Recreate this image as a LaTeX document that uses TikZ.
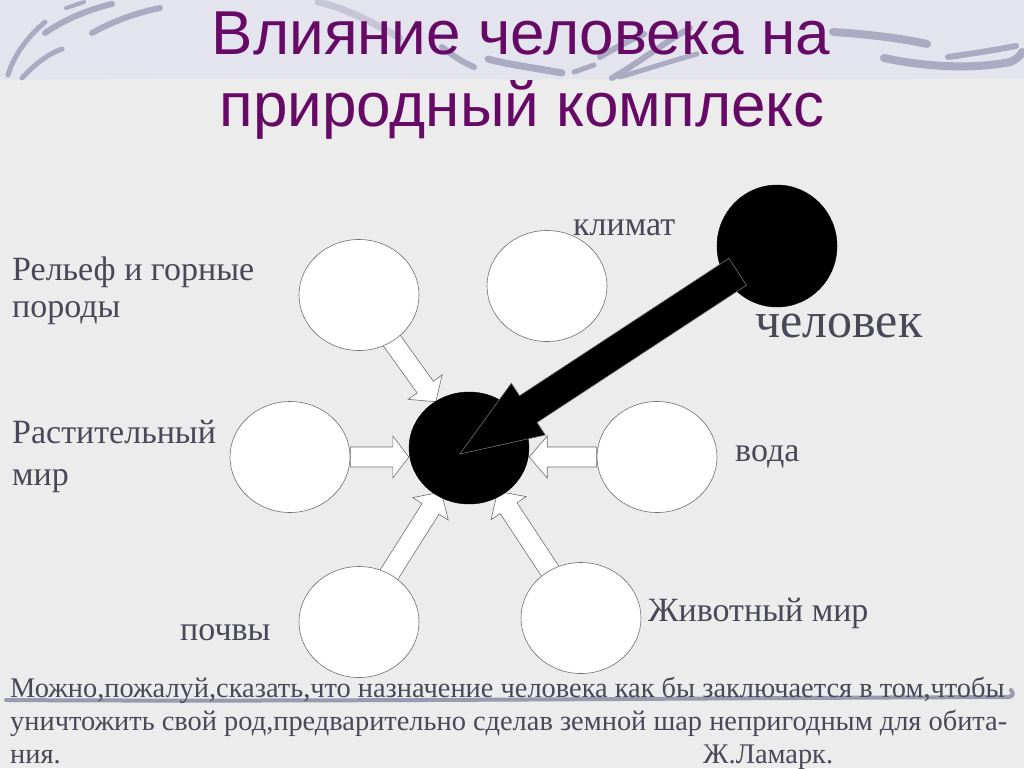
\documentclass[tikz,border=0pt]{standalone}
\usepackage{fontspec}
\setmainfont{Liberation Serif}
\newfontfamily\headfont{Liberation Sans}
\usetikzlibrary{calc,shapes.geometric}
\pgfdeclarelayer{paper}
\pgfdeclarelayer{under}
\pgfsetlayers{paper,under,main}
\definecolor{sheet}{RGB}{236,236,236}
\definecolor{band}{RGB}{228,228,238}
\definecolor{lilac}{RGB}{170,170,194}
\definecolor{plum}{RGB}{102,10,102}
\definecolor{ink}{RGB}{72,72,88}
\definecolor{rim}{RGB}{110,110,118}

\tikzset{
  ring/.style={ellipse, draw=rim, fill=white, line width=0.6pt, minimum width=120pt, minimum height=111pt, inner sep=0pt},
  blob/.style={ellipse, fill=black, draw=black, minimum width=120pt, minimum height=112pt, inner sep=0pt},
  tag/.style={anchor=base west, inner sep=0pt, text=ink, font=\fontsize{34}{40}\selectfont},
  quote/.style={anchor=base west, inner sep=0pt, text=ink, font=\fontsize{28.4}{33}\selectfont},
  headline/.style={anchor=base, inner sep=0pt, text=plum, font=\headfont\fontsize{62}{72}\selectfont},
  hollow/.style={fill=white, draw=rim, line width=0.6pt, line join=miter},
  solid/.style={fill=black, draw=black!55, line width=0.6pt, line join=miter},
  swash/.style={draw=lilac, line cap=round, line width=#1},
}

% block arrow: [style] from, tip, half shaft, half head, head length
\newcommand\blockarrow[6][hollow]{%
  \coordinate (ba) at ($(#3)!#6!(#2)$);
  \draw[#1] ($(#2)!#4!90:(#3)$) -- ($(ba)!#4!90:(#3)$) -- ($(ba)!#5!90:(#3)$) -- (#3)
    -- ($(ba)!#5!-90:(#3)$) -- ($(ba)!#4!-90:(#3)$) -- ($(#2)!#4!-90:(#3)$) -- cycle;
}

\begin{document}
\begin{tikzpicture}[x=1pt, y=-1pt]
\useasboundingbox (0,0) rectangle (1024,768);

\begin{pgfonlayer}{paper}
\fill[sheet] (0,0) rectangle (1024,768);
\fill[band] (0,0) -- (1024,0) -- (1024,78) .. controls (700,82) and (300,76) .. (0,80) -- cycle;
% brush strokes, top
\draw[swash=5pt] (8,75) .. controls (15,52) and (30,35) .. (45,22);
\draw[swash=5pt] (22,78) .. controls (35,64) and (48,54) .. (62,49);
\draw[swash=6pt] (45,33) .. controls (70,16) and (95,8) .. (112,4);
\draw[swash=6pt] (92,33) .. controls (115,20) and (140,12) .. (160,8);
\draw[swash=4pt] (66,8) -- (84,2);
\draw[swash=7pt, draw opacity=0.5] (318,2) .. controls (345,8) and (372,22) .. (400,38);
\draw[swash=6pt] (442,47) .. controls (452,55) and (462,62) .. (474,67);
\draw[swash=7pt] (488,59) .. controls (505,64) and (535,68) .. (562,73);
\draw[swash=5pt] (574,72) -- (594,65);
\draw[swash=6pt] (612,78) .. controls (640,62) and (665,42) .. (690,28);
\draw[swash=6pt] (600,57) .. controls (615,48) and (630,40) .. (644,34);
\draw[swash=5pt] (620,77) .. controls (650,68) and (675,60) .. (697,54);
\draw[swash=8pt] (833,32) .. controls (865,34) and (900,38) .. (927,44);
\draw[swash=8pt] (884,58) .. controls (920,66) and (970,70) .. (1010,62) .. controls (1016,60) and (1020,56) .. (1022,52);
\draw[swash=6pt] (948,57) .. controls (970,54) and (995,50) .. (1016,46);
% brush stroke under the quote
\draw[swash=4pt, draw=lilac!90!black] (6,700) .. controls (300,702) and (700,698) .. (1008,697) .. controls (1013,697) and (1014,693) .. (1011,690);
\end{pgfonlayer}

\node (ttl1) [headline] at (521,55) {Влияние человека на};
\node (ttl2) [headline] at (522,126) {природный комплекс};

\node (relief) [ring] at (359,295) {};
\node (climate) [ring] at (547,286) {};
\node (human) [blob, minimum height=122pt] at (777,246) {};
\node (core) [blob] at (469,448) {};
\node (plant) [ring] at (290,457) {};
\node (water) [ring] at (657,457) {};
\node (soils) [ring] at (359,622) {};
\node (fauna) [ring] at (581,618) {};

\begin{pgfonlayer}{under}
\coordinate (reliefout) at ($(relief)!52pt!(core)$);
\coordinate (reliefin) at ($(core)!57pt!(relief)$);
\blockarrow{reliefout}{reliefin}{10pt}{21pt}{18pt}
\coordinate (plantout) at (plant.east);
\coordinate (plantin) at (core.west |- plant);
\blockarrow{plantout}{plantin}{10pt}{21pt}{16pt}
\coordinate (waterout) at (water.west);
\coordinate (waterin) at (core.east |- water);
\blockarrow{waterout}{waterin}{10pt}{21pt}{18pt}
\coordinate (soilsout) at ($(soils)!54pt!(core)$);
\coordinate (soilsin) at ($(core)!52pt!(soils)$);
\blockarrow{soilsout}{soilsin}{10pt}{21pt}{20pt}
\coordinate (faunaout) at ($(fauna)!54pt!(core)$);
\coordinate (faunain) at ($(core)!52pt!(fauna)$);
\blockarrow{faunaout}{faunain}{10pt}{21pt}{20pt}
\end{pgfonlayer}

\coordinate (humanout) at ($(human)!47pt!(core)$);
\coordinate (humanin) at ($(human)!1.03!(core)$);
\blockarrow[solid]{humanout}{humanin}{16pt}{31pt}{82pt}

\node (relieftag) [tag] at (12,280) {Рельеф и горные};
\node (relieftag2) [tag] at (12,317) {породы};
\node (climatetag) [tag] at (573,235) {климат};
\node (humantag) [tag, font=\fontsize{50}{58}\selectfont] at (755,337) {человек};
\node (planttag) [tag] at (12,443) {Растительный};
\node (planttag2) [tag] at (12,485) {мир};
\node (watertag) [tag] at (735,461) {вода};
\node (soilstag) [tag] at (180,640) {почвы};
\node (faunatag) [tag] at (648,621) {Животный мир};

\node (quote1) [quote] at (10,697) {Можно,пожалуй,сказать,что назначение человека как бы заключается в том,чтобы};
\node (quote2) [quote] at (10,730) {уничтожить свой род,предварительно сделав земной шар непригодным для обита-};
\node (quote3) [quote] at (10,763) {ния.};
\node (quote4) [quote] at (703,763) {Ж.Ламарк.};
\end{tikzpicture}
\end{document}
